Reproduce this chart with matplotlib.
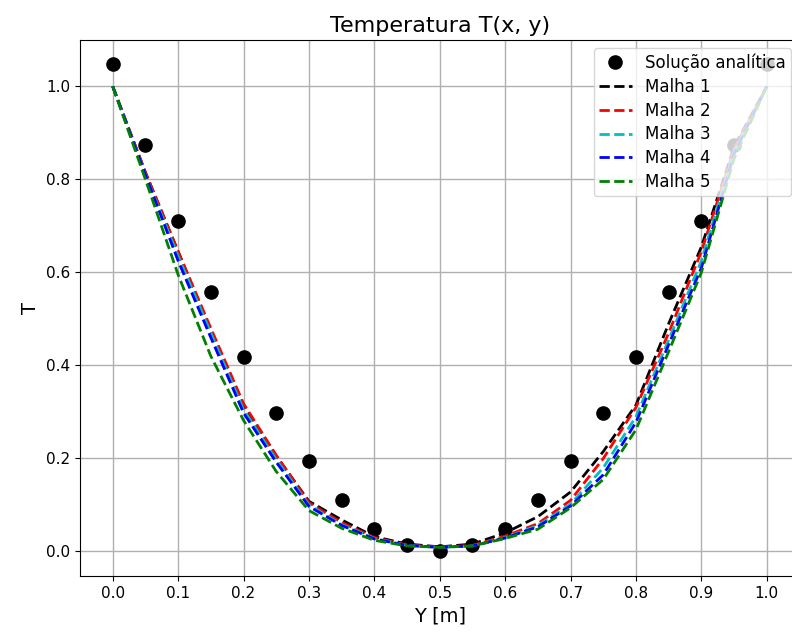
import numpy as np
import matplotlib
matplotlib.use("Agg")
import matplotlib.pyplot as plt

# posicoes em y (m)
y_pts = [0.0, 0.05, 0.1, 0.15, 0.2, 0.25, 0.3, 0.35, 0.4, 0.45, 0.5,
         0.55, 0.6, 0.65, 0.7, 0.75, 0.8, 0.85, 0.9, 0.95, 1.0]

# solucao analitica
T_analitica = [1.047, 0.873, 0.710, 0.557, 0.419, 0.297, 0.194, 0.110, 0.049, 0.013, 0.0,
               0.013, 0.049, 0.110, 0.194, 0.297, 0.419, 0.557, 0.710, 0.873, 1.047]

# solucoes numericas
malha1 = [1.0, 0.815, 0.645, 0.475, 0.315, 0.205, 0.108, 0.068, 0.032, 0.016, 0.010,
          0.016, 0.040, 0.075, 0.128, 0.215, 0.315, 0.490, 0.655, 0.870, 1.0]
malha2 = [1.0, 0.815, 0.645, 0.480, 0.318, 0.207, 0.105, 0.062, 0.030, 0.014, 0.009,
          0.013, 0.033, 0.060, 0.110, 0.200, 0.310, 0.470, 0.645, 0.865, 1.0]
malha3 = [1.0, 0.810, 0.635, 0.470, 0.305, 0.198, 0.100, 0.058, 0.028, 0.013, 0.009,
          0.012, 0.030, 0.056, 0.102, 0.180, 0.290, 0.455, 0.625, 0.860, 1.0]
malha4 = [1.0, 0.810, 0.625, 0.460, 0.298, 0.192, 0.097, 0.056, 0.027, 0.013, 0.009,
          0.012, 0.029, 0.053, 0.098, 0.165, 0.278, 0.445, 0.610, 0.855, 1.0]
malha5 = [1.0, 0.800, 0.595, 0.420, 0.282, 0.172, 0.088, 0.050, 0.024, 0.012, 0.009,
          0.012, 0.028, 0.048, 0.094, 0.155, 0.262, 0.430, 0.600, 0.845, 1.0]

malhas = [malha1, malha2, malha3, malha4, malha5]
nomes = ["Malha 1", "Malha 2", "Malha 3", "Malha 4", "Malha 5"]
cores = ["k", "r", "c", "b", "g"]


def main():
    fig = plt.figure(figsize=(7.92, 6.37), dpi=100)
    # o eixo passa um pouco da borda direita, como no original
    ax = fig.add_axes([0.101, 0.096, 0.9085, 0.841])

    ax.plot(y_pts, T_analitica, "o", color="k", markersize=9.5, label="Solução analítica")
    for m, nome, c in zip(malhas, nomes, cores):
        ax.plot(y_pts, m, "--", color=c, linewidth=2, label=nome)

    ax.set_xticks(np.arange(0, 1.01, 0.1))
    ax.tick_params(labelsize=11)
    ax.set_xlabel("Y [m]", fontsize=14)
    ax.set_ylabel("T", fontsize=14)
    ax.set_title("Temperatura T(x, y)", fontsize=16)
    ax.grid(True, color="#b0b0b0", linewidth=1)
    ax.legend(loc="upper right", fontsize=12, handlelength=2, borderpad=0.3,
              labelspacing=0.35, handletextpad=0.8)

    fig.savefig("out.png", dpi=100)


if __name__ == '__main__':
    main()
